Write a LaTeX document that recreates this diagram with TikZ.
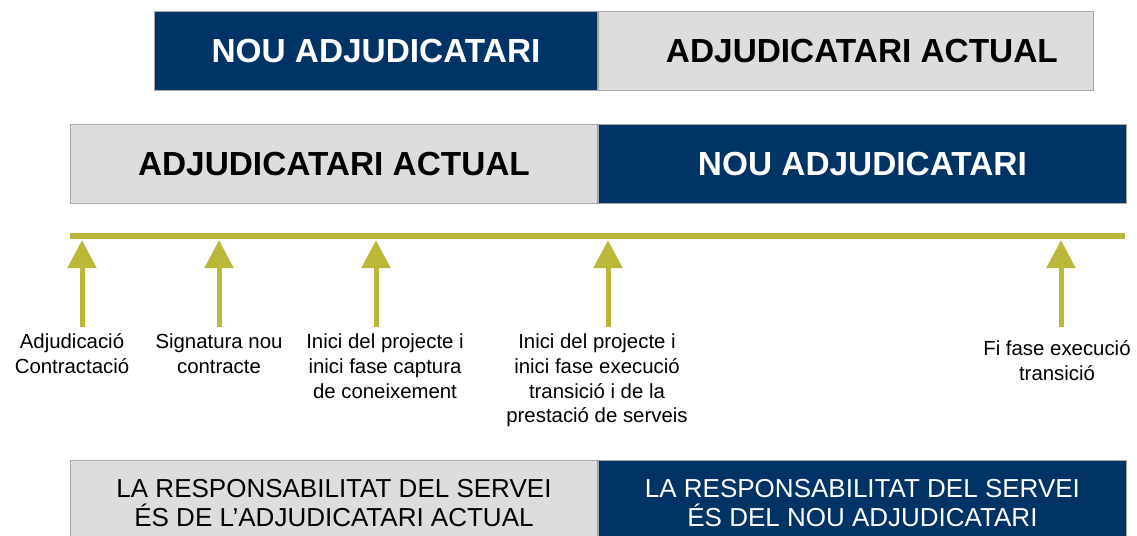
\documentclass[tikz,border=0pt]{standalone}
\usepackage{fontspec}
\setmainfont{Liberation Sans}
\usepackage{tikz}
\usetikzlibrary{arrows.meta, positioning}

\definecolor{navyblue}{RGB}{0,51,102}
\definecolor{boxgrey}{RGB}{221,221,221}
\definecolor{lineolive}{RGB}{187,183,56}

\begin{document}
\begin{tikzpicture}[x=0.02cm, y=-0.02cm]
  \tikzstyle{newbox}=[rectangle, fill=navyblue, draw=gray!70, line width=0.6pt, text=white, inner sep=0pt, anchor=north west, minimum height=1.58cm, font=\bfseries\fontsize{19}{22}\selectfont]
  \tikzstyle{oldbox}=[rectangle, fill=boxgrey, draw=gray!70, line width=0.6pt, text=black, inner sep=0pt, anchor=north west, minimum height=1.58cm, font=\bfseries\fontsize{19}{22}\selectfont]
  \tikzstyle{respfont}=[font=\fontsize{14.8}{17}\selectfont, align=center, minimum height=1.7cm]
  \tikzstyle{milestone}=[anchor=north, inner sep=0pt, align=center, font=\fontsize{11.6}{14.2}\selectfont]
  \tikzstyle{timeline}=[draw=lineolive, line width=0.12cm]
  \tikzstyle{uparrow}=[draw=lineolive, line width=0.1cm, -{Triangle[width=0.56cm, length=0.56cm]}]

  \useasboundingbox (0,0) rectangle (1137,535);

  \node[newbox, minimum width=8.86cm] (top_new) at (154,11) {NOU ADJUDICATARI};
  \node[oldbox, minimum width=9.9cm] (top_old) at (top_new.north east) {\hspace*{0.64cm}ADJUDICATARI ACTUAL};

  \node[oldbox, minimum width=10.54cm] (mid_old) at (70,124) {ADJUDICATARI ACTUAL};
  \node[newbox, minimum width=10.56cm] (mid_new) at (mid_old.north east) {NOU ADJUDICATARI};

  \coordinate (tl_start) at (70,236);
  \coordinate (tl_end) at (1125,236);
  \draw[timeline] (tl_start) -- (tl_end);

  \node[milestone] (m_adj) at (72,333) {Adjudicació\\Contractació};
  \node[milestone] (m_sig) at (219,333) {Signatura nou\\contracte};
  \node[milestone] (m_cap) at (385,333) {Inici del projecte i\\inici fase captura\\de coneixement};
  \node[milestone] (m_exe) at (597,333) {Inici del projecte i\\inici fase execució\\transició i de la\\prestació de serveis};
  \node[milestone] (m_fi) at (1057,340) {Fi fase execució\\transició};

  \coordinate (foot_adj) at (82,327);  \coordinate (tip_adj) at (82,240);
  \coordinate (foot_sig) at (219,327); \coordinate (tip_sig) at (219,240);
  \coordinate (foot_cap) at (376,327); \coordinate (tip_cap) at (376,240);
  \coordinate (foot_exe) at (608,327); \coordinate (tip_exe) at (608,240);
  \coordinate (foot_fi) at (1061,327); \coordinate (tip_fi) at (1061,240);

  \draw[uparrow] (foot_adj) -- (tip_adj);
  \draw[uparrow] (foot_sig) -- (tip_sig);
  \draw[uparrow] (foot_cap) -- (tip_cap);
  \draw[uparrow] (foot_exe) -- (tip_exe);
  \draw[uparrow] (foot_fi) -- (tip_fi);

  \node[oldbox, respfont, minimum width=10.54cm] (resp_old) at (70,460) {LA RESPONSABILITAT DEL SERVEI\\ÉS DE L’ADJUDICATARI ACTUAL};
  \node[newbox, respfont, minimum width=10.56cm] (resp_new) at (resp_old.north east) {LA RESPONSABILITAT DEL SERVEI\\ÉS DEL NOU ADJUDICATARI};
\end{tikzpicture}
\end{document}
